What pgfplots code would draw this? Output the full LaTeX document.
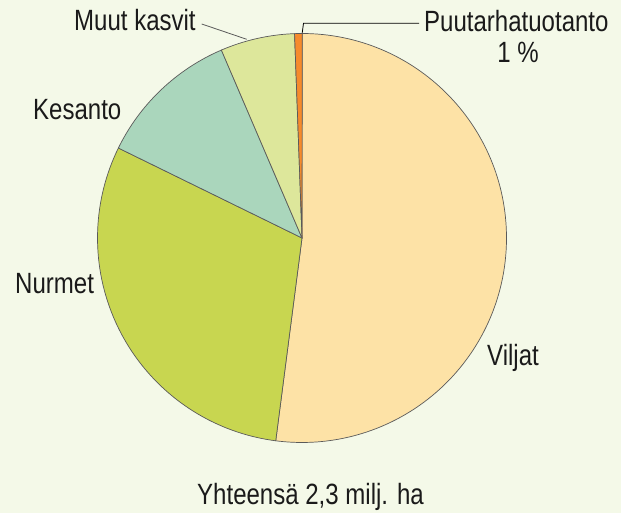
\documentclass[border=0pt]{standalone}
\usepackage{pgfplots}
\pgfplotsset{compat=1.18}
\usepackage{fontspec}
\setmainfont{Liberation Sans}[FakeStretch=0.82]
\definecolor{bg}{HTML}{F4F9E8}
\definecolor{cViljat}{HTML}{FDE2A6}
\definecolor{cNurmet}{HTML}{C8D650}
\definecolor{cKesanto}{HTML}{AAD6BC}
\definecolor{cMuut}{HTML}{DDE79B}
\definecolor{cPuutarha}{HTML}{F68B2C}
\definecolor{edge}{HTML}{5A5A5A}
\definecolor{txt}{HTML}{1A1A1A}
\begin{document}
\begin{tikzpicture}
\fill[bg] (0,0) rectangle (621bp,513bp);
\begin{axis}[
  at={(0,0)}, anchor=origin,
  width=621bp, height=513bp, scale only axis,
  xmin=0, xmax=621, ymin=0, ymax=513,
  hide axis, clip=false,
]
\foreach \v/\c [remember=\e as \s (initially 90)] in
  {52.05/cViljat, 30.2/cNurmet, 11.3/cKesanto, 5.87/cMuut, 0.6/cPuutarha} {
  \pgfmathsetmacro{\e}{\s-\v*3.6}
  \pgfmathsetmacro{\xs}{302+204.5*cos(\s)}
  \pgfmathsetmacro{\ys}{275+204.5*sin(\s)}
  \edef\temp{\noexpand\filldraw[fill=\c, draw=edge, line width=0.7bp, line join=round]
    (axis cs:302,275) -- (axis cs:\xs,\ys) arc[start angle=\s, end angle=\e, radius=204.5bp] -- cycle;}
  \temp
}
\draw[edge, line width=0.8bp] (axis cs:201.7,489) -- (axis cs:246.7,473.7);
\draw[black, line width=0.8bp] (axis cs:302.2,480) -- (axis cs:303.5,489.7) -- (axis cs:419,489.7);
\begin{scope}[every node/.style={inner sep=0pt, text=txt, font=\fontsize{29.3bp}{34bp}\selectfont}]
\node[anchor=base west] at (axis cs:74,482) {Muut kasvit};
\node[anchor=base west] at (axis cs:424,481) {Puutarhatuotanto};
\node[anchor=base] at (axis cs:518,450) {1 \%};
\node[anchor=base west] at (axis cs:33,393) {Kesanto};
\node[anchor=base west] at (axis cs:15,219) {Nurmet};
\node[anchor=base west] at (axis cs:487,147) {Viljat};
\node[anchor=base] at (axis cs:310.5,9) {Yhteensä 2,3 milj. ha};
\end{scope}
\end{axis}
\end{tikzpicture}
\end{document}
